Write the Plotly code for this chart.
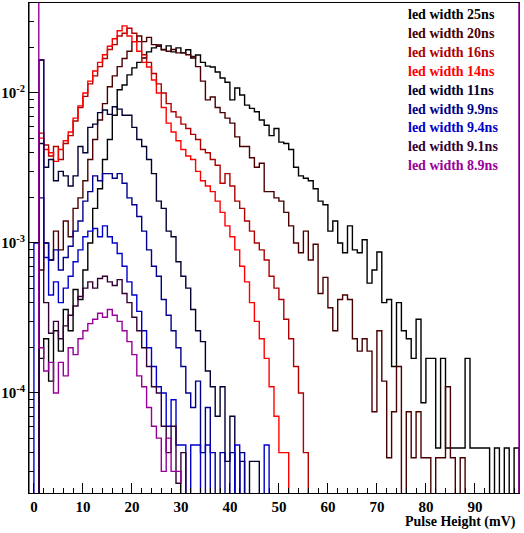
import numpy as np
import plotly.graph_objects as go

# ---- data: normalised pulse-height histograms, 1 mV bins starting at -1 mV ----
bin_start = -1.0
bin_width = 1.0

led_25ns = [0, 0, 1.7e-4, 2.3e-4, 1.2e-4, 2.6e-4, 1.9e-4, 3.6e-4, 2.6e-4, 4.9e-4,
            4.2e-4, 6.6e-4, 1.0e-3, 1.7e-3, 2.3e-3, 3.6e-3, 4.9e-3, 7.1e-3, 1.05e-2, 1.13e-2,
            1.32e-2, 1.47e-2, 1.6e-2, 1.71e-2, 1.88e-2, 2.0e-2, 2.09e-2, 1.94e-2, 2.06e-2, 1.88e-2,
            2.0e-2, 1.85e-2, 1.94e-2, 1.71e-2, 1.79e-2, 1.6e-2, 1.51e-2, 1.49e-2, 1.38e-2, 1.26e-2,
            1.18e-2, 9.0e-3, 1.08e-2, 9.7e-3, 8.3e-3, 7.9e-3, 7.5e-3, 6.6e-3, 6.1e-3, 5.2e-3,
            5.8e-3, 4.7e-3, 4.6e-3, 4.2e-3, 3.2e-3, 2.8e-3, 2.7e-3, 2.6e-3, 2.3e-3, 1.9e-3,
            1.8e-3, 1.2e-3, 1.4e-3, 1.0e-3, 8.6e-4, 1.3e-3, 9.0e-4, 8.6e-4, 1.05e-3, 5.4e-4,
            6.6e-4, 8.7e-4, 4.0e-4, 4.2e-4, 1.5e-4, 4.0e-4, 2.6e-4, 2.3e-4, 1.7e-4, 3.1e-4,
            8.6e-5, 1.7e-4, 1.7e-4, 4.3e-5, 1.7e-4, 4.3e-5, 4.3e-5, 4.3e-5, 4.3e-5, 1.7e-4,
            4.3e-5, 4.3e-5, 4.3e-5, 4.3e-5, 0, 4.3e-5, 0, 4.3e-5, 0, 4.3e-5]

led_20ns = [0, 0, 6.6e-4, 1.0e-3, 7.7e-4, 1.2e-3, 9.0e-4, 1.4e-3, 1.1e-3, 1.7e-3,
            2.0e-3, 2.6e-3, 3.6e-3, 4.9e-3, 6.6e-3, 8.5e-3, 1.1e-2, 1.3e-2, 1.5e-2, 1.7e-2,
            1.9e-2, 2.2e-2, 2.4e-2, 2.2e-2, 2.35e-2, 2.1e-2, 2.05e-2, 1.95e-2, 1.9e-2, 1.95e-2,
            1.85e-2, 1.85e-2, 1.8e-2, 1.75e-2, 1.5e-2, 1.2e-2, 9.0e-3, 9.4e-3, 8.0e-3, 7.4e-3,
            6.8e-3, 6.3e-3, 5.1e-3, 4.4e-3, 4.4e-3, 3.7e-3, 3.2e-3, 3.4e-3, 2.2e-3, 2.2e-3,
            2.0e-3, 1.9e-3, 1.6e-3, 1.3e-3, 1.0e-3, 8.6e-4, 1.2e-3, 7.7e-4, 9.8e-4, 4.6e-4,
            5.9e-4, 3.7e-4, 2.6e-4, 4.2e-4, 4.5e-4, 4.2e-4, 2.3e-4, 1.9e-4, 2.3e-4, 1.9e-4,
            7.5e-5, 2.6e-4, 1.2e-4, 3.7e-5, 7.5e-5, 1.5e-4, 0, 7.5e-5, 3.7e-5, 7.5e-5,
            3.7e-5, 3.7e-5, 0, 3.7e-5, 3.7e-5, 1.1e-4, 3.7e-5, 0, 3.7e-5, 0,
            0, 0, 0, 0, 0, 0, 0, 0, 0, 0]

led_16ns = [0, 0, 5.4e-3, 4.5e-3, 3.8e-3, 4.4e-3, 3.6e-3, 4.6e-3, 5.2e-3, 6.5e-3,
            8.0e-3, 9.5e-3, 1.15e-2, 1.3e-2, 1.5e-2, 1.7e-2, 1.95e-2, 2.1e-2, 2.4e-2, 2.5e-2,
            2.7e-2, 2.5e-2, 2.2e-2, 1.8e-2, 1.6e-2, 1.35e-2, 1.15e-2, 1.0e-2, 8.5e-3, 7.5e-3,
            6.9e-3, 6.2e-3, 5.8e-3, 5.3e-3, 4.9e-3, 4.2e-3, 4.0e-3, 3.6e-3, 3.3e-3, 2.5e-3,
            2.9e-3, 2.4e-3, 1.9e-3, 1.7e-3, 1.4e-3, 1.2e-3, 1.0e-3, 9.0e-4, 7.7e-4, 6.0e-4,
            5.0e-4, 4.2e-4, 3.1e-4, 2.3e-4, 1.5e-4, 1.0e-4, 4.0e-5, 0, 0, 0,
            0, 0, 0, 0, 0, 0, 0, 0, 0, 0,
            0, 0, 0, 0, 0, 0, 0, 0, 0, 0,
            0, 0, 0, 0, 0, 0, 0, 0, 0, 0,
            0, 0, 0, 0, 0, 0, 0, 0, 0, 0]

led_14ns = [0, 0, 5.0e-3, 4.2e-3, 4.0e-3, 3.5e-3, 4.2e-3, 4.8e-3, 5.5e-3, 6.8e-3,
            8.2e-3, 1.0e-2, 1.2e-2, 1.4e-2, 1.6e-2, 1.8e-2, 2.05e-2, 2.3e-2, 2.6e-2, 2.8e-2,
            2.4e-2, 2.2e-2, 1.9e-2, 1.6e-2, 1.49e-2, 1.22e-2, 1.0e-2, 8.0e-3, 6.3e-3, 5.5e-3,
            4.8e-3, 4.2e-3, 3.8e-3, 3.6e-3, 3.0e-3, 2.6e-3, 2.4e-3, 2.2e-3, 1.9e-3, 1.6e-3,
            1.3e-3, 1.1e-3, 9.0e-4, 7.0e-4, 5.5e-4, 4.0e-4, 3.0e-4, 2.3e-4, 1.7e-4, 1.1e-4,
            7.0e-5, 4.0e-5, 4.0e-5, 0, 0, 0, 0, 0, 0, 0,
            0, 0, 0, 0, 0, 0, 0, 0, 0, 0,
            0, 0, 0, 0, 0, 0, 0, 0, 0, 0,
            0, 0, 0, 0, 0, 0, 0, 0, 0, 0,
            0, 0, 0, 0, 0, 0, 0, 0, 0, 0]

led_11ns = [0, 0, 4.6e-3, 3.2e-3, 3.6e-3, 2.6e-3, 3.0e-3, 2.8e-3, 2.4e-3, 2.8e-3,
            4.4e-3, 4.0e-3, 5.9e-3, 6.2e-3, 7.4e-3, 7.7e-3, 7.2e-3, 8.1e-3, 7.8e-3, 7.1e-3,
            7.1e-3, 5.9e-3, 4.9e-3, 4.4e-3, 3.6e-3, 2.9e-3, 1.9e-3, 1.7e-3, 1.2e-3, 1.1e-3,
            7.5e-4, 6.0e-4, 5.0e-4, 3.6e-4, 2.6e-4, 2.2e-4, 1.4e-4, 1.1e-4, 7.0e-5, 1.1e-4,
            3.5e-5, 7.0e-5, 0, 3.5e-5, 0, 3.5e-5, 3.5e-5, 0, 0, 0,
            0, 0, 0, 0, 0, 0, 0, 0, 0, 0,
            0, 0, 0, 0, 0, 0, 0, 0, 0, 0,
            0, 0, 0, 0, 0, 0, 0, 0, 0, 0,
            0, 0, 0, 0, 0, 0, 0, 0, 0, 0,
            0, 0, 0, 0, 0, 0, 0, 0, 0, 0]

led_9p9ns = [0, 0, 2.0e-3, 1.0e-3, 7.7e-4, 9.0e-4, 6.6e-4, 8.0e-4, 9.5e-4, 1.2e-3,
             1.4e-3, 1.9e-3, 2.2e-3, 2.8e-3, 2.6e-3, 2.9e-3, 2.9e-3, 2.7e-3, 2.9e-3, 2.5e-3,
             2.0e-3, 1.8e-3, 1.5e-3, 1.2e-3, 9.0e-4, 7.0e-4, 6.0e-4, 4.2e-4, 3.3e-4, 2.6e-4,
             2.0e-4, 1.5e-4, 1.0e-4, 8.0e-5, 1.2e-4, 4.0e-5, 8.0e-5, 4.0e-5, 0, 4.0e-5,
             0, 4.0e-5, 0, 4.0e-5, 0, 0, 0, 0, 0, 0,
             0, 0, 0, 0, 0, 0, 0, 0, 0, 0,
             0, 0, 0, 0, 0, 0, 0, 0, 0, 0,
             0, 0, 0, 0, 0, 0, 0, 0, 0, 0,
             0, 0, 0, 0, 0, 0, 0, 0, 0, 0,
             0, 0, 0, 0, 0, 0, 0, 0, 0, 0]

led_9p4ns = [0, 1.0e-3, 1.66e-2, 8.0e-4, 4.5e-4, 5.5e-4, 4.0e-4, 5.0e-4, 6.0e-4, 7.5e-4,
             9.0e-4, 1.1e-3, 1.2e-3, 1.25e-3, 1.1e-3, 1.3e-3, 1.1e-3, 1.0e-3, 8.5e-4, 7.0e-4,
             5.5e-4, 4.5e-4, 3.5e-4, 2.6e-4, 2.0e-4, 1.5e-4, 1.1e-4, 1.0e-4, 6.0e-5, 9.0e-5,
             4.5e-5, 4.5e-5, 0, 4.5e-5, 4.5e-5, 0, 4.5e-5, 0, 0, 0,
             0, 0, 4.5e-5, 0, 0, 0, 0, 0, 4.5e-5, 0,
             0, 0, 0, 0, 0, 0, 0, 0, 0, 0,
             0, 0, 0, 0, 0, 0, 0, 0, 0, 0,
             0, 0, 0, 0, 0, 0, 0, 0, 0, 0,
             0, 0, 0, 0, 0, 0, 0, 0, 0, 0,
             0, 0, 0, 0, 0, 0, 0, 0, 0, 0]

led_9p1ns = [0, 0, 1.66e-2, 4.0e-4, 2.5e-4, 3.0e-4, 2.3e-4, 2.8e-4, 3.3e-4, 3.8e-4,
             4.4e-4, 5.0e-4, 5.5e-4, 5.0e-4, 5.8e-4, 6.0e-4, 5.5e-4, 5.2e-4, 5.7e-4, 4.6e-4,
             4.0e-4, 3.2e-4, 2.6e-4, 2.0e-4, 1.5e-4, 1.1e-4, 1.0e-4, 6.0e-5, 4.0e-5, 6.0e-5,
             2.5e-5, 4.0e-5, 0, 0, 0, 0, 0, 0, 0, 0,
             0, 0, 0, 0, 0, 0, 0, 0, 0, 0,
             0, 0, 0, 0, 0, 0, 0, 0, 0, 0,
             0, 0, 0, 0, 0, 0, 0, 0, 0, 0,
             0, 0, 0, 0, 0, 0, 0, 0, 0, 0,
             0, 0, 0, 0, 0, 0, 0, 0, 0, 0,
             0, 0, 0, 0, 0, 0, 0, 0, 0, 0]

led_8p9ns = [6.0e-2, 6.0e-2, 2.0e-4, 1.4e-4, 1.6e-4, 1.0e-4, 1.6e-4, 1.3e-4, 2.0e-4, 1.8e-4,
             2.3e-4, 2.6e-4, 2.9e-4, 3.1e-4, 3.4e-4, 3.2e-4, 3.6e-4, 3.3e-4, 3.0e-4, 2.6e-4,
             2.2e-4, 1.8e-4, 1.3e-4, 1.1e-4, 8.0e-5, 6.0e-5, 5.0e-5, 3.0e-5, 5.0e-5, 3.0e-5,
             3.0e-5, 0, 0, 0, 0, 0, 0, 0, 0, 0,
             0, 0, 0, 0, 0, 0, 0, 0, 0, 0,
             0, 0, 0, 0, 0, 0, 0, 0, 0, 0,
             0, 0, 0, 0, 0, 0, 0, 0, 0, 0,
             0, 0, 0, 0, 0, 0, 0, 0, 0, 0,
             0, 0, 0, 0, 0, 0, 0, 0, 0, 0,
             0, 0, 0, 0, 0, 0, 0, 0, 0, 0]

labels = ["led width 25ns", "led width 20ns", "led width 16ns", "led width 14ns",
          "led width 11ns", "led width 9.9ns", "led width 9.4ns", "led width 9.1ns",
          "led width 8.9ns"]
colors = ["#000000", "#4a0000", "#b00000", "#ff0000", "#000033", "#00008c",
          "#0000cc", "#330033", "#990099"]
series = [led_25ns, led_20ns, led_16ns, led_14ns, led_11ns, led_9p9ns,
          led_9p4ns, led_9p1ns, led_8p9ns]

x_title = "Pulse Height (mV)"
y_tick_vals = [1e-4, 1e-3, 1e-2]
y_tick_text = ["10<sup>-4</sup>", "10<sup>-3</sup>", "10<sup>-2</sup>"]

# ---- figure ----
W, H = 524, 533
L, R, T, B = 29, 5, 3, 40
FLOOR = 1e-8  # empty bins are drawn down to the bottom of the frame

fig = go.Figure()
for vals, col in zip(series, colors):
    n = len(vals)
    edges = bin_start + bin_width * np.arange(n + 1)
    v = [val if val > 0 else FLOOR for val in vals]
    xs = [edges[0]] + list(edges[:-1]) + [edges[-1], edges[-1]]
    ys = [FLOOR] + v + [v[-1], FLOOR]
    fig.add_trace(go.Scatter(x=xs, y=ys, mode="lines",
                             line=dict(color=col, width=1.4, shape="hv"),
                             showlegend=False, hoverinfo="skip", cliponaxis=True))

font_b = dict(family="Liberation Serif", size=15, color="black", weight="bold")
minor_y = [k * 10.0 ** e for e in range(-5, -1) for k in range(2, 10)]

fig.update_xaxes(range=[-1.0, 99.0], showgrid=False, zeroline=False, automargin=False,
                 showline=True, linecolor="black", linewidth=1, mirror=True,
                 ticks="inside", ticklen=10, tickcolor="black", tickwidth=1,
                 tick0=0, dtick=10, tickfont=font_b,
                 minor=dict(ticks="inside", ticklen=5, dtick=2, tick0=0,
                            tickcolor="black", showgrid=False))
fig.update_yaxes(type="log", range=[-4.667, -1.4], showgrid=False, zeroline=False,
                 automargin=False,
                 showline=True, linecolor="black", linewidth=1, mirror=True,
                 ticks="inside", ticklen=10, tickcolor="black", tickwidth=1,
                 tickmode="array", tickvals=y_tick_vals, ticktext=y_tick_text,
                 tickfont=font_b,
                 minor=dict(ticks="inside", ticklen=5, tickmode="array",
                            tickvals=minor_y, tickcolor="black", showgrid=False))

pw, ph = W - L - R, H - T - B
def px_to_paper(px, py):
    return (px - L) / pw, 1 - (py - T) / ph

# legend text lines (colored text only, no markers)
for i, (lab, col) in enumerate(zip(labels, colors)):
    xp, yp = px_to_paper(406, 15 + i * 18.8)
    fig.add_annotation(x=xp, y=yp, xref="paper", yref="paper", text=lab,
                       showarrow=False, xanchor="left", yanchor="middle",
                       font=dict(family="Liberation Serif", size=14, color=col,
                                 weight="bold"))

xp, yp = px_to_paper(518, 522)
fig.add_annotation(x=xp, y=yp, xref="paper", yref="paper", text=x_title,
                   showarrow=False, xanchor="right", yanchor="middle",
                   font=dict(family="Liberation Serif", size=14, color="black",
                             weight="bold"))

# right frame edge appears in the purple of the last histogram
fig.add_shape(type="line", xref="paper", yref="paper", x0=1, x1=1, y0=0, y1=1,
              line=dict(color="#990099", width=1.5))

fig.update_layout(width=W, height=H, margin=dict(l=L, r=R, t=T, b=B),
                  paper_bgcolor="white", plot_bgcolor="white")

fig.write_html("out.html", config={"displayModeBar": False},
               post_script="document.body.style.margin='0';"
                           "document.body.style.padding='0';"
                           "document.documentElement.style.overflow='hidden';")
